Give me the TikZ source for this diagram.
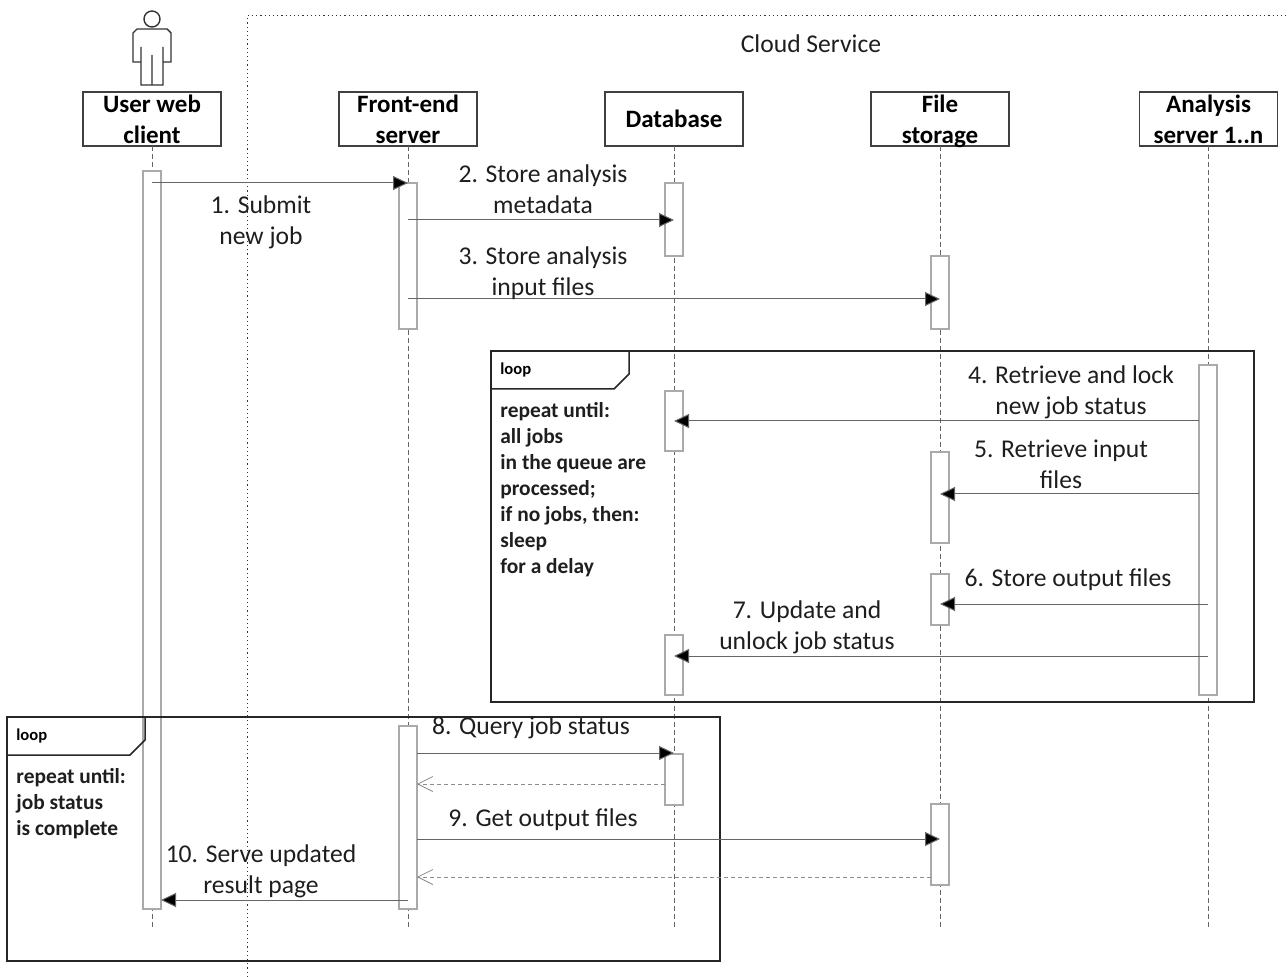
\documentclass[tikz,border=0pt]{standalone}
\usepackage{fontspec}
\setmainfont{Carlito}
\usetikzlibrary{arrows.meta}
\definecolor{msgtext}{RGB}{30,30,30}
\definecolor{bargray}{RGB}{170,170,170}
\tikzset{
	head/.style={draw=black!75,line width=0.8pt,fill=white,minimum width=69pt,minimum height=27pt,inner sep=0pt,outer sep=0pt,align=center,font=\fontsize{12.5}{15.5}\selectfont\bfseries},
	actbar/.style={draw=bargray,line width=0.75pt,fill=white,minimum width=9pt,inner sep=0pt,outer sep=0pt},
	lifeline/.style={draw=black!60,line width=0.35pt,dash pattern=on 2.5pt off 1.5pt},
	msg/.style={draw=black!60,line width=0.5pt,-{Triangle[length=7.5pt,width=7pt,fill=black]}},
	reply/.style={draw=black!45,line width=0.35pt,dash pattern=on 2pt off 1.5pt,-{Straight Barb[length=7.5pt,width=7.5pt,black!50]}},
	frame/.style={draw=black!85,line width=0.75pt},
	lbl/.style={inner sep=0pt,align=center,text=msgtext,font=\fontsize{12.8}{15.5}\selectfont},
	looptag/.style={inner sep=0pt,anchor=west,font=\fontsize{8.3}{10}\selectfont\bfseries},
	looptext/.style={inner sep=0pt,anchor=north west,align=left,text=msgtext,font=\fontsize{10.7}{13}\selectfont\bfseries},
}
\begin{document}
\begin{tikzpicture}[x=0.5pt,y=-0.5pt]
	\useasboundingbox (0,0) rectangle (1288,977);

	% cloud service border
	\draw [black!80,line width=0.5pt,dash pattern=on 0.6pt off 1.5pt] (247,977) -- (247,16) -- (1288,16);
	\node [lbl] (cloud) at (811,44) {Cloud Service};

	% actor
	\draw [black!80,line width=0.7pt] (152,19) circle (8)
		(141,47) -- (141,85) -- (163,85) -- (163,47)
		(152,55) -- (152,85)
		(141,62) -- (133,62) -- (133,33) -- (137,29) -- (167,29) -- (171,33) -- (171,62) -- (163,62);

	% heads
	\node [head] (user) at (152,119) {User web\\client};
	\node [head] (front) at (408,119) {Front-end\\server};
	\node [head] (db) at (674,119) {Database};
	\node [head] (file) at (940,119) {File\\\smash{storage}};
	\node [head] (ana) at (1208.5,119) {Analysis\\server 1..n};

	% lifelines
	\coordinate (userend) at (152,930);
	\coordinate (frontend) at (408,930);
	\coordinate (dbend) at (674,930);
	\coordinate (fileend) at (940,930);
	\coordinate (anaend) at (1208,930);
	\draw [lifeline] (user) -- (userend);
	\draw [lifeline] (front) -- (frontend);
	\draw [lifeline] (db) -- (dbend);
	\draw [lifeline] (file) -- (fileend);
	\draw [lifeline] (ana.south -| anaend) -- (anaend);

	% activation bars
	\node [actbar,minimum height=369pt] (userbar) at (152,540) {};
	\node [actbar,minimum height=73pt] (frontbar1) at (408,256) {};
	\node [actbar,minimum height=36.5pt] (dbbar1) at (674,219.5) {};
	\node [actbar,minimum height=36.5pt] (filebar1) at (940,292.5) {};
	\node [actbar,minimum height=165pt] (anabar) at (1208,530) {};
	\node [actbar,minimum height=30pt] (dbbar2) at (674,421) {};
	\node [actbar,minimum height=45.5pt] (filebar2) at (940,497.5) {};
	\node [actbar,minimum height=25.5pt] (filebar3) at (940,599.5) {};
	\node [actbar,minimum height=30pt] (dbbar3) at (674,665) {};
	\node [actbar,minimum height=91.5pt] (frontbar2) at (408,817.5) {};
	\node [actbar,minimum height=25.5pt] (dbbar4) at (674,779.5) {};
	\node [actbar,minimum height=40.5pt] (filebar4) at (940,844.5) {};

	% loop frames
	\draw [frame] (491,351) rectangle (1254,702);
	\draw [frame] (491,389) -- (614,389) -- (629,374) -- (629,351);
	\node [looptag] (tag1) at (500,370) {loop};
	\node [looptext] (cond1) at (500,402) {repeat until:\\all jobs\\in the queue are\\processed;\\if no jobs, then:\\sleep\\for a delay};
	\draw [frame] (7,717) rectangle (720,961);
	\draw [frame] (7,755) -- (130,755) -- (145,740) -- (145,717);
	\node [looptag] (tag2) at (16,736) {loop};
	\node [looptext] (cond2) at (16,768) {repeat until:\\job status\\is complete};

	% message end points
	\coordinate (m1a) at (152,183);   \coordinate (m1b) at (408,183);
	\coordinate (m2a) at (408,220);   \coordinate (m2b) at (674,220);
	\coordinate (m3a) at (408,299);   \coordinate (m3b) at (940,299);
	\coordinate (m4a) at (1199,421);  \coordinate (m4b) at (674,421);
	\coordinate (m5a) at (1199,494);  \coordinate (m5b) at (940,494);
	\coordinate (m6a) at (1208,604);  \coordinate (m6b) at (940,604);
	\coordinate (m7a) at (1208,656);  \coordinate (m7b) at (674,656);
	\coordinate (m8a) at (417,753);   \coordinate (m8b) at (674,753);
	\coordinate (r8a) at (665,784);   \coordinate (r8b) at (417,784);
	\coordinate (m9a) at (417,839);   \coordinate (m9b) at (940,839);
	\coordinate (r9a) at (931,877);   \coordinate (r9b) at (417,877);
	\coordinate (m10a) at (408,900);  \coordinate (m10b) at (161,900);

	% messages
	\draw [msg] (m1a) -- (m1b);
	\draw [msg] (m2a) -- (m2b);
	\draw [msg] (m3a) -- (m3b);
	\draw [msg] (m4a) -- (m4b);
	\draw [msg] (m5a) -- (m5b);
	\draw [msg] (m6a) -- (m6b);
	\draw [msg] (m7a) -- (m7b);
	\draw [msg] (m8a) -- (m8b);
	\draw [reply] (r8a) -- (r8b);
	\draw [msg] (m9a) -- (m9b);
	\draw [reply] (r9a) -- (r9b);
	\draw [msg] (m10a) -- (m10b);

	% labels
	\node [lbl] (l1) at (261,222) {1. Submit\\new job};
	\node [lbl] (l2) at (543,189) {2. Store analysis\\metadata};
	\node [lbl] (l3) at (543,273) {3. Store analysis\\input files};
	\node [lbl] (l4) at (1071,392) {4. Retrieve and lock\\new job status};
	\node [lbl] (l5) at (1061,464) {5. Retrieve input\\files};
	\node [lbl] (l6) at (1068,580) {6. Store output files};
	\node [lbl] (l7) at (807,627) {7. Update and\\unlock job status};
	\node [lbl] (l8) at (531,728) {8. Query job status};
	\node [lbl] (l9) at (543,820) {9. Get output files};
	\node [lbl] (l10) at (261,871) {10. Serve updated\\result page};
\end{tikzpicture}
\end{document}
